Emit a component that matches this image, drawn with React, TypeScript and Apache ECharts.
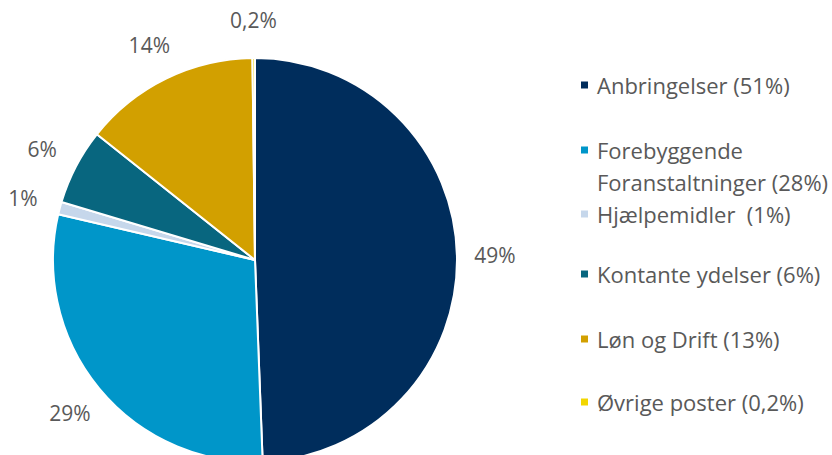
import React, { useEffect, useRef } from "react";
import * as echarts from "echarts";

const categories = [
  "Anbringelser (51%)",
  "Forebyggende Foranstaltninger (28%)",
  "Hjælpemidler  (1%)",
  "Kontante ydelser (6%)",
  "Løn og Drift (13%)",
  "Øvrige poster (0,2%)",
];
const values = [49, 29, 1, 6, 14, 0.2];
const sliceLabels = ["49%", "29%", "1%", "6%", "14%", "0,2%"];
const colors = ["#002D5C", "#0096C9", "#C6D7EB", "#08667F", "#D2A000", "#F2D600"];
const legendTops = [69, 102, 198, 258, 323, 386];

export default function App() {
  const ref = useRef<HTMLDivElement>(null);
  useEffect(() => {
    if (!ref.current) return;
    const chart = echarts.init(ref.current, undefined, { renderer: "svg" });
    const font = "'Open Sans', sans-serif";
    const data = categories.map((name, i) => ({
      name,
      value: values[i],
      itemStyle: { color: colors[i] },
    }));
    const legends = categories.map((name, i) => {
      const twoLine = i === 1;
      return {
        data: [name],
        orient: "vertical",
        left: 574,
        top: legendTops[i],
        icon: "rect",
        itemWidth: 9,
        itemHeight: 9,
        itemGap: 0,
        selectedMode: false,
        formatter: (n: string) => {
          if (!twoLine) return "{t|" + n + "}";
          const parts = n.split(" Foranstaltninger");
          return "{s| }\n{t|" + parts[0] + "}\n{t|Foranstaltninger" + parts[1] + "}";
        },
        textStyle: {
          color: "#595959",
          fontSize: 22,
          fontFamily: font,
          rich: {
            s: { fontSize: 22, lineHeight: 32, fontFamily: font },
            t: {
              fontSize: 22,
              lineHeight: twoLine ? 32 : 30,
              fontFamily: font,
              color: "#595959",
              padding: [0, 0, 0, 3],
            },
          },
        },
      };
    });
    chart.setOption({
      animation: false,
      backgroundColor: "#ffffff",
      legend: legends,
      series: [
        {
          type: "pie",
          center: [255, 260],
          radius: [0, 202],
          startAngle: 90,
          clockwise: true,
          silent: true,
          label: { show: false },
          labelLine: { show: false },
          itemStyle: { borderColor: "#ffffff", borderWidth: 2 },
          data,
        },
        {
          type: "pie",
          center: [255, 260],
          radius: [217, 257],
          startAngle: 90,
          clockwise: true,
          silent: true,
          itemStyle: { color: "transparent", borderWidth: 0 },
          label: {
            show: true,
            position: "inside",
            color: "#595959",
            fontSize: 21,
            fontFamily: font,
            formatter: (p: any) => sliceLabels[p.dataIndex],
          },
          labelLine: { show: false },
          data: categories.map((name, i) => ({
            name,
            value: values[i],
            itemStyle: { color: "transparent" },
          })),
        },
      ],
    });
    return () => chart.dispose();
  }, []);
  return (
    <div
      ref={ref}
      style={{ position: "fixed", left: 0, top: 0, width: 832, height: 455 }}
    />
  );
}
